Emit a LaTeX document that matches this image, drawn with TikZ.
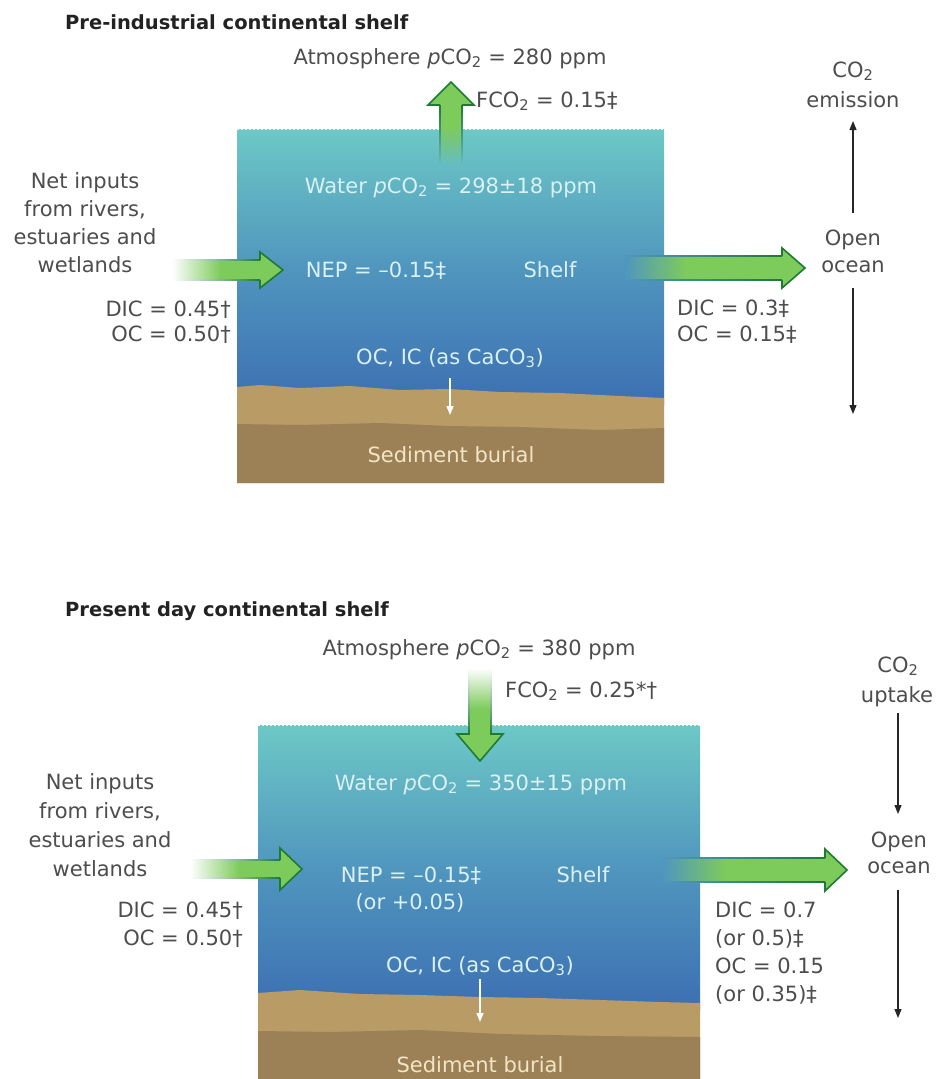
\documentclass[tikz,border=0pt]{standalone}
\usepackage{fontspec}
\setmainfont{DejaVu Sans}
\usetikzlibrary{arrows.meta}
\definecolor{txtc}{HTML}{4D4D4D}
\definecolor{ttlc}{HTML}{222222}
\definecolor{wtop}{HTML}{6DC8C5}
\definecolor{wmid}{HTML}{5096BE}
\definecolor{wbot}{HTML}{3C6FB2}
\definecolor{wtxt}{HTML}{DAF0F2}
\definecolor{sedA}{HTML}{B99B65}
\definecolor{sedB}{HTML}{9C8157}
\definecolor{stxt}{HTML}{F3E4C6}
\definecolor{agreen}{HTML}{7DCB5B}
\definecolor{dgreen}{HTML}{1E7B35}
\definecolor{tailT}{HTML}{66BCC4}
\pgfdeclarehorizontalshading{fillW}{100bp}{color(0bp)=(white); color(25bp)=(white); color(47bp)=(agreen); color(100bp)=(agreen)}
\pgfdeclarehorizontalshading{fillM}{100bp}{color(0bp)=(wmid); color(25bp)=(wmid); color(42bp)=(agreen); color(100bp)=(agreen)}
\pgfdeclarehorizontalshading{fillT}{100bp}{color(0bp)=(tailT); color(25bp)=(tailT); color(48bp)=(agreen); color(100bp)=(agreen)}
\newcommand{\pcotwo}{\textit{p}CO\textsubscript{2}}
\newcommand{\cotwo}{CO\textsubscript{2}}
% horizontal green arrow: #1 tail x, #2 head base x, #3 tip x, #4 y, #5 shaft half, #6 head half, #7 shading, #8 tail colour
\newcommand{\greenH}[8]{%
  \shade[shading=#7] (#1,#4-#5) -- (#2,#4-#5) -- (#2,#4-#6) -- (#3,#4) -- (#2,#4+#6) -- (#2,#4+#5) -- (#1,#4+#5) -- cycle;
  \shade[left color=#8, right color=dgreen] (#1,#4-#5-0.8) rectangle (#2,#4-#5+0.8);
  \shade[left color=#8, right color=dgreen] (#1,#4+#5-0.8) rectangle (#2,#4+#5+0.8);
  \draw[dgreen, line width=1.6pt, line join=miter] (#2,#4-#5) -- (#2,#4-#6) -- (#3,#4) -- (#2,#4+#6) -- (#2,#4+#5);
}
\begin{document}
\begin{tikzpicture}[x=1pt,y=-1pt,
  tx/.style={font=\fontsize{21}{25}\selectfont, text=txtc, inner sep=0pt},
  wt/.style={tx, text=wtxt},
  st/.style={tx, text=stxt},
  ttl/.style={font=\fontsize{19.5}{23}\selectfont\bfseries, text=ttlc, inner sep=0pt, anchor=base west},
  blk/.style={-{Triangle[length=9pt,width=7pt]}, line width=1.2pt, draw=black!85},
  wht/.style={-{Triangle[length=9pt,width=7pt]}, line width=1.4pt, draw=white},
]
\useasboundingbox[fill=white] (0,0) rectangle (935,1079);

%%%%%%%%%%%%%%%% TOP PANEL %%%%%%%%%%%%%%%%
\shade[top color=wtop, bottom color=wbot, middle color=wmid] (237,129) rectangle (664,405);
\draw[white!80!wtop, dash pattern=on 2pt off 2pt, line width=1pt] (237,129.5) -- (664,129.5);
\fill[sedA] (237,387) -- (260,385) -- (300,388) -- (350,386) -- (400,390) -- (449,389) -- (500,392) -- (560,393) -- (620,396) -- (664,398) -- (664,483) -- (237,483) -- cycle;
\fill[sedB] (237,424) -- (300,425) -- (380,423) -- (449,426) -- (520,427) -- (600,430) -- (664,428) -- (664,483) -- (237,483) -- cycle;

\node[ttl] (title1) at (65,29) {Pre-industrial continental shelf};
\node[tx, anchor=base] (atm1) at (450,64) {Atmosphere \pcotwo{} = 280 ppm};

% up arrow
\shade[shading=fillT, shading angle=90] (440,165) -- (440,105) -- (428,105) -- (451,82) -- (474,105) -- (462,105) -- (462,165) -- cycle;
\shade[bottom color=tailT, top color=dgreen] (439.2,165) rectangle (440.8,105);
\shade[bottom color=tailT, top color=dgreen] (461.2,165) rectangle (462.8,105);
\draw[dgreen, line width=1.6pt] (440,105) -- (428,105) -- (451,82) -- (474,105) -- (462,105);

\node[tx, anchor=base west] (fco1) at (476,107) {F\cotwo{} = 0.15‡};
\node[wt, anchor=base] (water1) at (451,193) {Water \pcotwo{} = 298±18 ppm};

\node[tx, anchor=base] (n1a) at (85,188) {Net inputs};
\node[tx, anchor=base] (n1b) at (85,216) {from rivers,};
\node[tx, anchor=base] (n1c) at (85,244) {estuaries and};
\node[tx, anchor=base] (n1d) at (85,272) {wetlands};
\node[tx, anchor=base east] (dicL1) at (231,316) {DIC = 0.45†};
\node[tx, anchor=base east] (ocL1) at (231,341) {OC = 0.50†};

\greenH{172}{260}{283}{270}{10}{18}{fillW}{white}
\greenH{625}{782}{805}{268}{12}{20}{fillM}{wmid}

\node[wt, anchor=base] (nep1) at (376,277) {NEP = –0.15‡};
\node[wt, anchor=base] (shelf1) at (550,277) {Shelf};

\node[tx, anchor=base west] (dicR1) at (677,315) {DIC = 0.3‡};
\node[tx, anchor=base west] (ocR1) at (677,341) {OC = 0.15‡};

\node[tx, anchor=base] (co2a) at (853,77) {\cotwo};
\node[tx, anchor=base] (emis) at (853,107) {emission};
\node[tx, anchor=base] (open1) at (853,245) {Open};
\node[tx, anchor=base] (ocean1) at (853,272) {ocean};
\coordinate (u1s) at (853,213);
\coordinate (u1e) at (853,121);
\coordinate (d1s) at (853,288);
\coordinate (d1e) at (853,414);
\draw[blk] (u1s) -- (u1e);
\draw[blk] (d1s) -- (d1e);

\node[wt, anchor=base] (ocic1) at (450,364) {OC, IC (as CaCO\textsubscript{3})};
\coordinate (w1s) at (450,378);
\coordinate (w1e) at (450,415);
\draw[wht] (w1s) -- (w1e);
\node[st, anchor=base] (sed1) at (451,462) {Sediment burial};

%%%%%%%%%%%%%%%% BOTTOM PANEL %%%%%%%%%%%%%%%%
\shade[top color=wtop, bottom color=wbot, middle color=wmid] (258,725) rectangle (700,1010);
\draw[white!80!wtop, dash pattern=on 2pt off 2pt, line width=1pt] (258,725.5) -- (700,725.5);
\fill[sedA] (258,993) -- (300,990) -- (360,994) -- (420,995) -- (480,997) -- (540,998) -- (600,1000) -- (660,1002) -- (700,1003) -- (700,1079) -- (258,1079) -- cycle;
\fill[sedB] (258,1031) -- (330,1032) -- (420,1030) -- (500,1034) -- (600,1036) -- (700,1037) -- (700,1079) -- (258,1079) -- cycle;

\node[ttl] (title2) at (65,616) {Present day continental shelf};
\node[tx, anchor=base] (atm2) at (479,655) {Atmosphere \pcotwo{} = 380 ppm};

% down arrow
\shade[shading=fillW, shading angle=-90] (469,668) -- (469,734) -- (457,734) -- (480,761) -- (503,734) -- (491,734) -- (491,668) -- cycle;
\shade[top color=white, bottom color=dgreen] (468.2,668) rectangle (469.8,734);
\shade[top color=white, bottom color=dgreen] (490.2,668) rectangle (491.8,734);
\draw[dgreen, line width=1.6pt] (469,734) -- (457,734) -- (480,761) -- (503,734) -- (491,734);

\node[tx, anchor=base west] (fco2) at (505,697) {F\cotwo{} = 0.25*†};
\node[wt, anchor=base] (water2) at (481,790) {Water \pcotwo{} = 350±15 ppm};

\node[tx, anchor=base] (n2a) at (100,789) {Net inputs};
\node[tx, anchor=base] (n2b) at (100,818) {from rivers,};
\node[tx, anchor=base] (n2c) at (100,847) {estuaries and};
\node[tx, anchor=base] (n2d) at (100,876) {wetlands};
\node[tx, anchor=base east] (dicL2) at (243,917) {DIC = 0.45†};
\node[tx, anchor=base east] (ocL2) at (243,945) {OC = 0.50†};

\greenH{190}{280}{302}{869}{9}{21}{fillW}{white}
\greenH{663}{825}{847}{870}{12}{21}{fillM}{wmid}

\node[wt, anchor=base] (nep2) at (411,882) {NEP = –0.15‡};
\node[wt, anchor=base] (nep2b) at (410,909) {(or +0.05)};
\node[wt, anchor=base] (shelf2) at (583,882) {Shelf};

\node[tx, anchor=base west] (dicR2) at (715,917) {DIC = 0.7};
\node[tx, anchor=base west] (dicR2b) at (715,945) {(or 0.5)‡};
\node[tx, anchor=base west] (ocR2) at (715,973) {OC = 0.15};
\node[tx, anchor=base west] (ocR2b) at (715,1001) {(or 0.35)‡};

\node[tx, anchor=base] (co2b) at (898,672) {\cotwo};
\node[tx, anchor=base] (upt) at (897,702) {uptake};
\node[tx, anchor=base] (open2) at (899,847) {Open};
\node[tx, anchor=base] (ocean2) at (899,873) {ocean};
\coordinate (u2s) at (898,713);
\coordinate (u2e) at (898,814);
\coordinate (d2s) at (898,890);
\coordinate (d2e) at (898,1018);
\draw[blk] (u2s) -- (u2e);
\draw[blk] (d2s) -- (d2e);

\node[wt, anchor=base] (ocic2) at (480,972) {OC, IC (as CaCO\textsubscript{3})};
\coordinate (w2s) at (480,979);
\coordinate (w2e) at (480,1022);
\draw[wht] (w2s) -- (w2e);
\node[st, anchor=base] (sed2) at (480,1072) {Sediment burial};
\end{tikzpicture}
\end{document}
